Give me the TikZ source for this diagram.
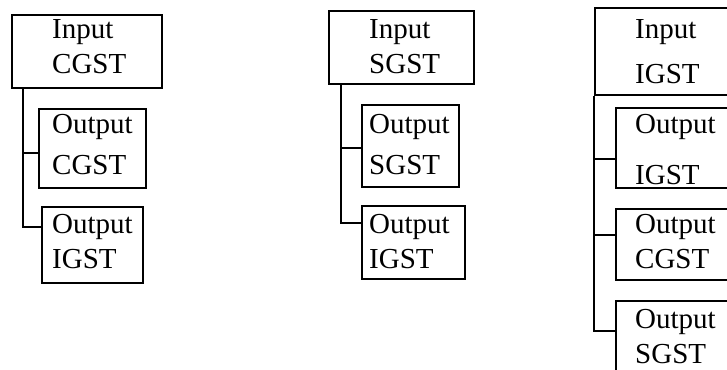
\documentclass[tikz,border=0pt]{standalone}
\usepackage{fontspec}
\setmainfont{Liberation Serif}
\begin{document}
\begin{tikzpicture}[x=1pt,y=-1pt,
  boxnode/.style={draw, line width=2.1pt, rectangle, inner sep=0pt, anchor=north west},
  lbl/.style={anchor=base west, inner sep=0pt, font=\fontsize{29}{34}\selectfont},
  conn/.style={line width=2.1pt}]
\useasboundingbox (0,0) rectangle (727,369);
\clip (0,0) rectangle (727,369);
% group 1
\node[boxnode, minimum width=150pt, minimum height=73pt] (b1) at (11,14) {};
\node[boxnode, minimum width=107pt, minimum height=79pt] (o11) at (38,108) {};
\node[boxnode, minimum width=101pt, minimum height=76pt] (o12) at (41,206) {};
\node[lbl] (t11) at (52,39) {Input};
\node[lbl] (t12) at (52,74) {CGST};
\node[lbl] (t13) at (52,133) {Output};
\node[lbl] (t14) at (52,174) {CGST};
\node[lbl] (t15) at (52,233) {Output};
\node[lbl] (t16) at (52,268) {IGST};
\coordinate (v1) at (22.7,227);
\coordinate (k1) at (22.7,153);
\draw[conn] (v1 |- b1.south) -- (v1) -- (v1 -| o12.west);
\draw[conn] (k1) -- (k1 -| o11.west);
% group 2
\node[boxnode, minimum width=145pt, minimum height=73pt] (b2) at (328,10) {};
\node[boxnode, minimum width=97pt, minimum height=82pt] (o21) at (361,104) {};
\node[boxnode, minimum width=103pt, minimum height=73pt] (o22) at (361,205) {};
\node[lbl] (t21) at (369,38) {Input};
\node[lbl] (t22) at (369,74) {SGST};
\node[lbl] (t23) at (369,133) {Output};
\node[lbl] (t24) at (369,174) {SGST};
\node[lbl] (t25) at (369,233) {Output};
\node[lbl] (t26) at (369,268) {IGST};
\coordinate (v2) at (341,223);
\coordinate (k2) at (341,148);
\draw[conn] (v2 |- b2.south) -- (v2) -- (v2 -| o22.west);
\draw[conn] (k2) -- (k2 -| o21.west);
% group 3
\node[boxnode, minimum width=166pt, minimum height=87pt] (b3) at (594,7) {};
\node[boxnode, minimum width=145pt, minimum height=80pt] (o31) at (615,107) {};
\node[boxnode, minimum width=145pt, minimum height=71pt] (o32) at (615,208) {};
\node[boxnode, minimum width=145pt, minimum height=100pt] (o33) at (615,300) {};
\node[lbl] (t31) at (635,39) {Input};
\node[lbl] (t32) at (635,83) {IGST};
\node[lbl] (t33) at (635,133) {Output};
\node[lbl] (t34) at (635,184) {IGST};
\node[lbl] (t35) at (635,233) {Output};
\node[lbl] (t36) at (635,268) {CGST};
\node[lbl] (t37) at (635,328) {Output};
\node[lbl] (t38) at (635,363) {SGST};
\coordinate (v3) at (594,331);
\coordinate (k31) at (594,159);
\coordinate (k32) at (594,235);
\draw[conn] (v3 |- b3.south) -- (v3) -- (v3 -| o33.west);
\draw[conn] (k31) -- (k31 -| o31.west);
\draw[conn] (k32) -- (k32 -| o32.west);
\end{tikzpicture}
\end{document}
